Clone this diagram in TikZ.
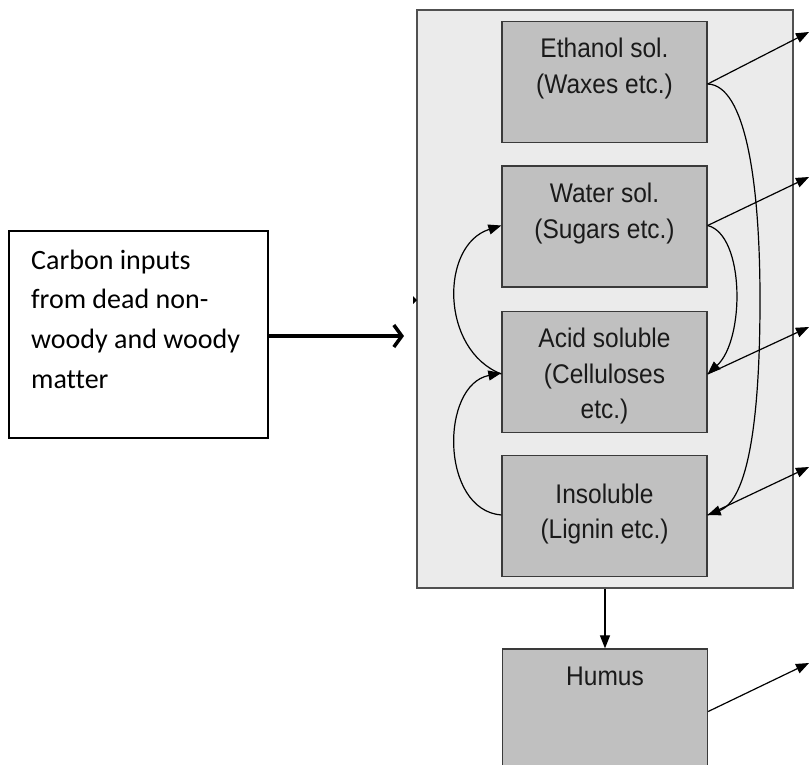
\documentclass[tikz,border=0pt]{standalone}
\usepackage{fontspec}
\setmainfont{Liberation Sans}
\newfontfamily\cali[Ligatures={NoCommon}]{Carlito}
\usetikzlibrary{arrows.meta}
\definecolor{outfill}{HTML}{EBEBEB}
\definecolor{outline}{HTML}{505050}
\definecolor{infill}{HTML}{C0C0C0}
\definecolor{inline}{HTML}{3A3A3A}
\definecolor{txt}{HTML}{1A1A1A}
\newcommand{\pooltext}[1]{\scalebox{1}[1.1]{#1}}
\begin{document}
\begin{tikzpicture}[x=1pt,y=-1pt,
  outerbox/.style={draw=outline,fill=outfill,line width=1.6pt,minimum width=376pt,minimum height=578pt,inner sep=0pt},
  poolbox/.style={draw=inline,fill=infill,line width=1.3pt,minimum width=205pt,minimum height=121pt,inner sep=0pt},
  inbox/.style={draw=black,fill=white,line width=1.4pt,minimum width=259pt,minimum height=207pt,inner sep=0pt},
  pooltxt/.style={font=\fontsize{24.5}{28}\selectfont,text=txt,inner sep=0pt,anchor=base},
  intxt/.style={font=\cali\fontsize{28}{34}\selectfont,text=black,inner sep=0pt,anchor=base west},
  flow/.style={line width=1.2pt,draw=black,-{Triangle[length=13pt,width=10pt]}},
  bigflow/.style={line width=3.5pt,draw=black,-{Straight Barb[length=8pt,width=22pt]}}]
\clip (0,0) rectangle (810,764);
\fill[white] (0,0) rectangle (810,764);
% outer compartment
\node[outerbox] (outer) at (605,299) {};
% pools
\node[poolbox] (eth) at (604.5,82) {};
\node[poolbox] (wat) at (604.5,226.5) {};
\node[poolbox] (acd) at (604.5,372) {};
\node[poolbox] (ins) at (604.5,516) {};
\node[poolbox] (hum) at (605,709.5) {};
% pool texts
\node[pooltxt] (e1) at (604.5,57) {\pooltext{Ethanol sol.}};
\node[pooltxt] (e2) at (604.5,93) {\pooltext{(Waxes etc.)}};
\node[pooltxt] (w1) at (604.5,202) {\pooltext{Water sol.}};
\node[pooltxt] (w2) at (604.5,238) {\pooltext{(Sugars etc.)}};
\node[pooltxt] (a1) at (604.5,347) {\pooltext{Acid soluble}};
\node[pooltxt] (a2) at (604.5,383) {\pooltext{(Celluloses}};
\node[pooltxt] (a3) at (604.5,418) {\pooltext{etc.)}};
\node[pooltxt] (i1) at (604.5,503) {\pooltext{Insoluble}};
\node[pooltxt] (i2) at (604.5,538) {\pooltext{(Lignin etc.)}};
\node[pooltxt] (h1) at (605,685) {\pooltext{Humus}};
% input box
\node[inbox] (inp) at (138.5,334.5) {};
\node[intxt] (c1) at (31,269) {Carbon inputs};
\node[intxt] (c2) at (31,308) {from dead non-};
\node[intxt] (c3) at (31,348) {woody and woody};
\node[intxt] (c4) at (31,388) {matter};
\coordinate (inend) at (404,336);
\draw[bigflow] (inp.east |- inend) -- (inend);
% small mark on compartment edge
\fill[black] (413,296) -- (417,300) -- (413,304) -- cycle;
% outputs to the right
\coordinate (oe) at (809,32);
\coordinate (ow) at (809,177);
\coordinate (oa) at (809,327);
\coordinate (oi) at (809,467);
\coordinate (oh) at (809,663);
\draw[flow] ([yshift=-2pt]eth.east) -- (oe);
\draw[flow] ([yshift=1pt]wat.east) -- (ow);
\draw[flow] ([yshift=-2pt]acd.east) -- (oa);
\draw[flow] ([yshift=1pt]ins.east) -- (oi);
\draw[flow] ([yshift=-2pt]hum.east) -- (oh);
% transfers between pools
\draw[flow] ([yshift=-2pt]eth.east) .. controls (745,85) and (760,180) .. (760,300)
   .. controls (760,420) and (748,500) .. ([yshift=1pt]ins.east);
\draw[flow] ([yshift=1pt]wat.east) .. controls (745,235) and (745,340) .. ([yshift=-2pt]acd.east);
\draw[flow] ([yshift=-2pt]acd.west) .. controls (440,350) and (440,245) .. ([yshift=1pt]wat.west);
\draw[flow] ([yshift=1pt]ins.west) .. controls (440,510) and (440,385) .. ([yshift=-1pt]acd.west);
\draw[flow] (outer.south -| hum.north) -- (hum.north);
\end{tikzpicture}
\end{document}
